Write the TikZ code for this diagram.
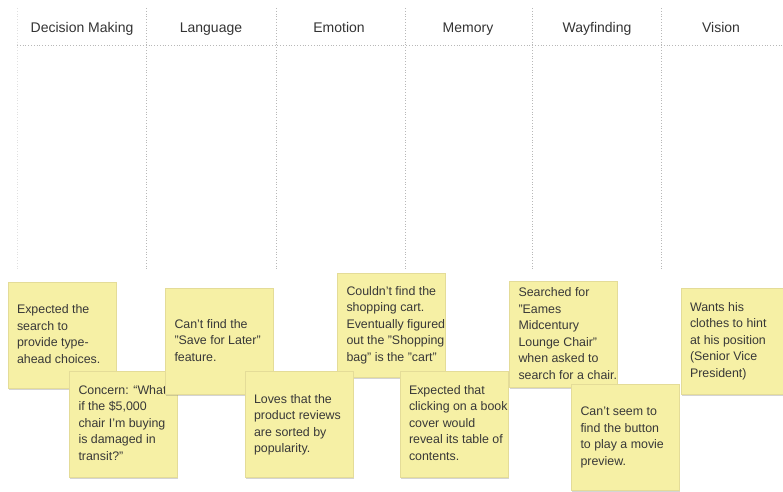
\documentclass[tikz,border=0pt]{standalone}
\usepackage{fontspec}
\setmainfont{Liberation Sans}
\usetikzlibrary{shadows}
\definecolor{notefill}{HTML}{F6F0A5}
\definecolor{noteedge}{HTML}{E4DC98}
\definecolor{notetext}{HTML}{383838}
\definecolor{gridline}{HTML}{B8B8B8}
\definecolor{headtext}{HTML}{333333}
\newcommand{\notelines}[1]{\makebox[90pt][l]{\begin{tabular}{@{}l@{}}#1\end{tabular}}}
\tikzset{
  header/.style={anchor=base, text=headtext, font=\fontsize{14}{17}\selectfont, inner sep=0pt},
  colline/.style={draw=gridline, dotted, line width=0.8pt},
  note/.style={draw=noteedge, line width=0.4pt, fill=notefill, text=notetext,
    minimum height=106pt, minimum width=108pt, inner xsep=9pt, inner ysep=2pt,
    font=\fontsize{12.4}{16.5}\selectfont,
    drop shadow={shadow xshift=0.8pt, shadow yshift=-1.8pt, opacity=0.28, fill=black!60}}
}
\begin{document}
\begin{tikzpicture}[x=1pt,y=-1pt]
\useasboundingbox (0,0) rectangle (783,491);
\clip (0,0) rectangle (783,491);
% grid
\coordinate (h0) at (17,45);
\coordinate (h1) at (783,45);
\draw[colline] (h0) -- (h1);
\coordinate (v0a) at (17,8); \coordinate (v0b) at (17,270);
\draw[draw=black!12, dotted, line width=0.8pt] (v0a) -- (v0b);
\foreach \x [count=\i] in {146,276,405,532,661}{
  \coordinate (va\i) at (\x,8); \coordinate (vb\i) at (\x,270);
  \draw[colline] (va\i) -- (vb\i);
}
% headers
\node[header] (hdm) at (82,32) {Decision Making};
\node[header] (hla) at (211,32) {Language};
\node[header] (hem) at (339,32) {Emotion};
\node[header] (hme) at (468,32) {Memory};
\node[header] (hwa) at (597,32) {Wayfinding};
\node[header] (hvi) at (721,32) {Vision};
% notes
\node[note] (n1) at (62,335) {\notelines{Expected the\\search to\\provide type-\\ahead choices.}};
\node[note] (n2) at (123.5,424) {\notelines{Concern: “What\\if the \$5,000\\chair I'm buying\\is damaged in\\transit?”}};
\node[note] (n3) at (219.5,341.5) {\notelines{Can't find the\\"Save for Later"\\feature.}};
\node[note, minimum height=104pt] (n5) at (391.5,325) {\notelines{Couldn't find the\\shopping cart.\\Eventually figured\\out the "Shopping\\bag" is the "cart"}};
\node[note] (n4) at (299,424.5) {\notelines{Loves that the\\product reviews\\are sorted by\\popularity.}};
\node[note] (n6) at (454,424) {\notelines{Expected that\\clicking on a book\\cover would\\reveal its table of\\contents.}};
\node[note] (n7) at (563.5,334.5) {\notelines{Searched for\\"Eames\\Midcentury\\Lounge Chair"\\when asked to\\search for a chair.}};
\node[note] (n8) at (625.5,437) {\notelines{Can't seem to\\find the button\\to play a movie\\preview.}};
\node[note] (n9) at (735,341) {\notelines{Wants his\\clothes to hint\\at his position\\(Senior Vice\\President)}};
\end{tikzpicture}
\end{document}
